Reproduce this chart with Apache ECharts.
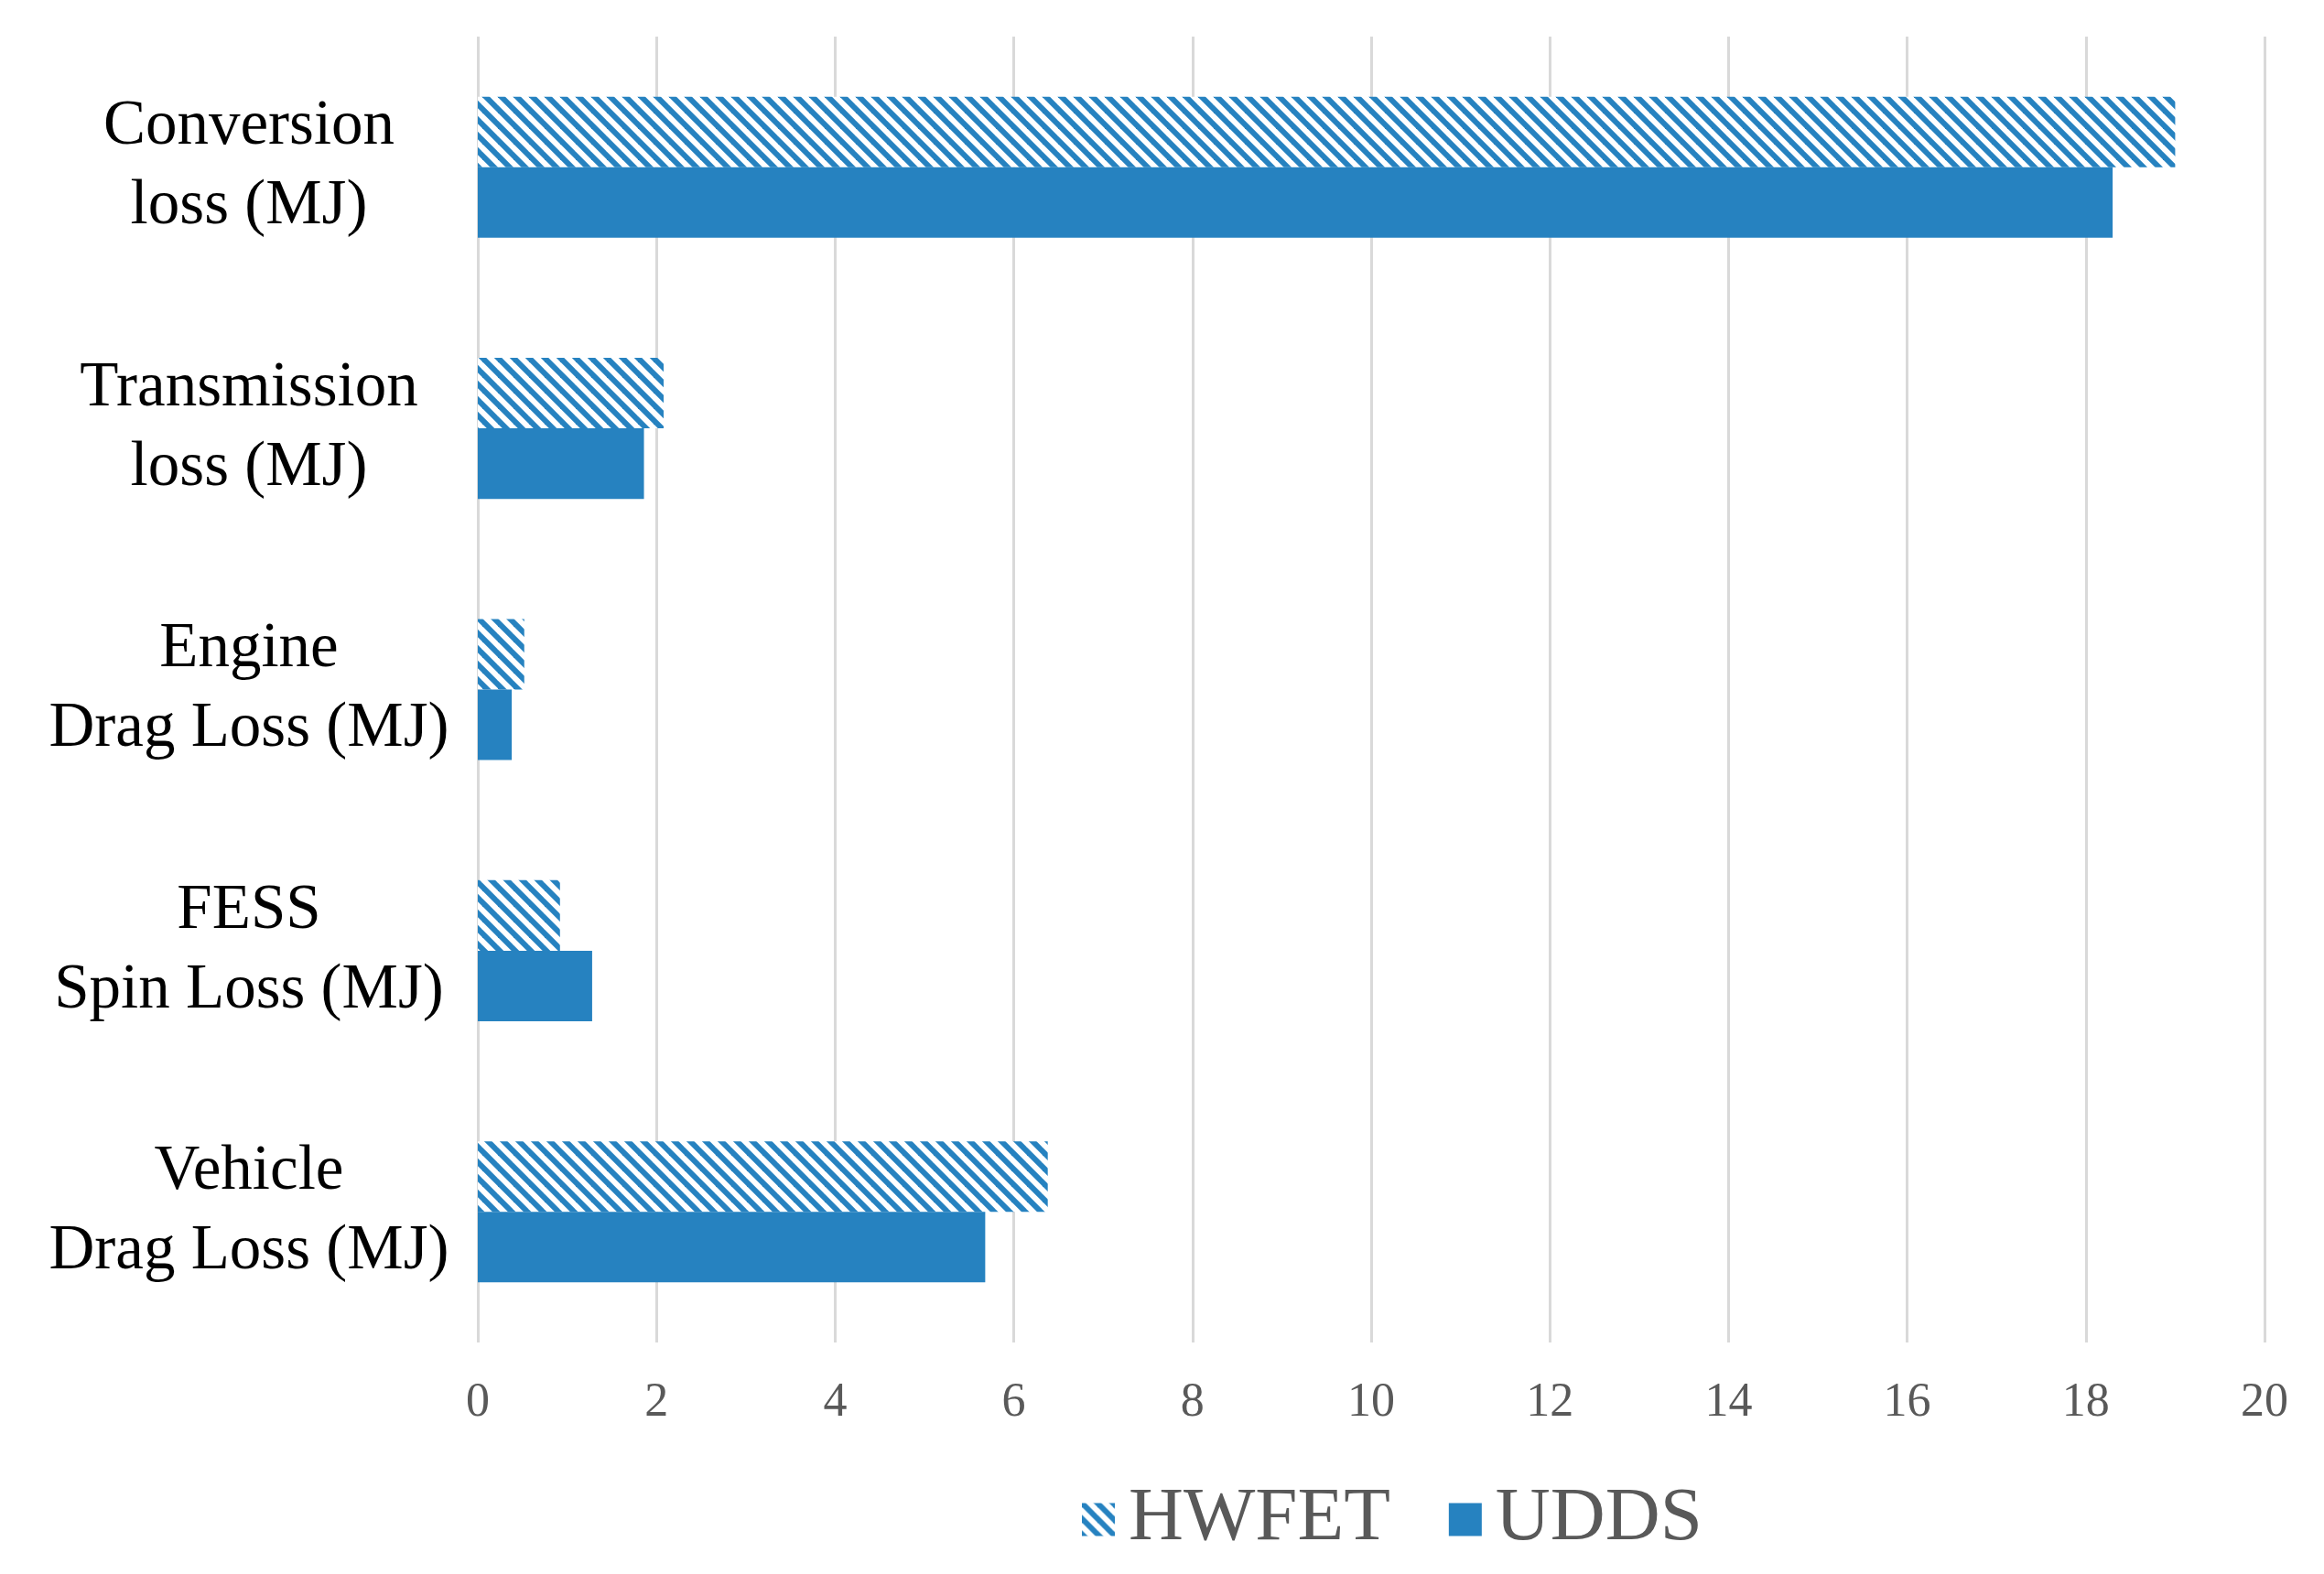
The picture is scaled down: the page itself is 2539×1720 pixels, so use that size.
<!DOCTYPE html>
<html>
<head>
<meta charset="utf-8">
<script src="https://cdn.jsdelivr.net/npm/echarts@6/dist/echarts.min.js"></script>
<style>
html,body{margin:0;padding:0;background:#fff;}
#chart{width:2539px;height:1720px;}
</style>
</head>
<body>
<div id="chart"></div>
<script>
const categories = ["Conversion\nloss (MJ)", "Transmission\nloss (MJ)", "Engine\nDrag Loss (MJ)", "FESS\nSpin Loss (MJ)", "Vehicle\nDrag Loss (MJ)"];
const seriesNames = ["HWFET", "UDDS"];
const hwfetValues = [19.0, 2.08, 0.52, 0.92, 6.38];
const uddsValues = [18.3, 1.86, 0.38, 1.28, 5.68];
const xTicks = { min: 0, max: 20, interval: 2 };

const BLUE = '#2682C0';
function makeHatch() {
  const s = 17;
  const c = document.createElement('canvas');
  c.width = s; c.height = s;
  const ctx = c.getContext('2d');
  ctx.fillStyle = '#fff';
  ctx.fillRect(0, 0, s, s);
  ctx.strokeStyle = BLUE;
  ctx.lineWidth = 6;
  ctx.lineCap = 'square';
  for (let k = -1; k <= 1; k++) {
    ctx.beginPath();
    ctx.moveTo(k * s - 2, -2);
    ctx.lineTo(k * s + s + 2, s + 2);
    ctx.stroke();
  }
  return c;
}
const hatch = { image: makeHatch(), repeat: 'repeat' };

const chart = echarts.init(document.getElementById('chart'));
chart.setOption({
  animation: false,
  backgroundColor: '#fff',
  grid: { left: 522, right: 65, top: 40, bottom: 253 },
  legend: {
    data: seriesNames,
    left: 1177,
    top: 1614,
    itemWidth: 36,
    itemHeight: 36,
    itemGap: 64,
    icon: 'rect',
    textStyle: { fontFamily: 'Liberation Serif', fontSize: 83, color: '#595959', padding: [0, 0, 0, 10] }
  },
  xAxis: {
    type: 'value',
    min: xTicks.min, max: xTicks.max, interval: xTicks.interval,
    axisLine: { show: false },
    axisTick: { show: false },
    splitLine: { lineStyle: { color: '#D9D9D9', width: 3 } },
    axisLabel: { fontFamily: 'Liberation Serif', fontSize: 52, color: '#595959', margin: 40 }
  },
  yAxis: {
    type: 'category',
    data: categories,
    inverse: true,
    axisLine: { show: false },
    axisTick: { show: false },
    axisLabel: {
      fontFamily: 'Liberation Serif', fontSize: 69, color: '#000', lineHeight: 87,
      align: 'center', margin: 250
    }
  },
  series: [
    { name: seriesNames[0], type: 'bar', data: hwfetValues, barCategoryGap: '46%', barGap: '0%',
      itemStyle: { color: hatch } },
    { name: seriesNames[1], type: 'bar', data: uddsValues, barCategoryGap: '46%', barGap: '0%',
      itemStyle: { color: BLUE } }
  ]
});
</script>
</body>
</html>
